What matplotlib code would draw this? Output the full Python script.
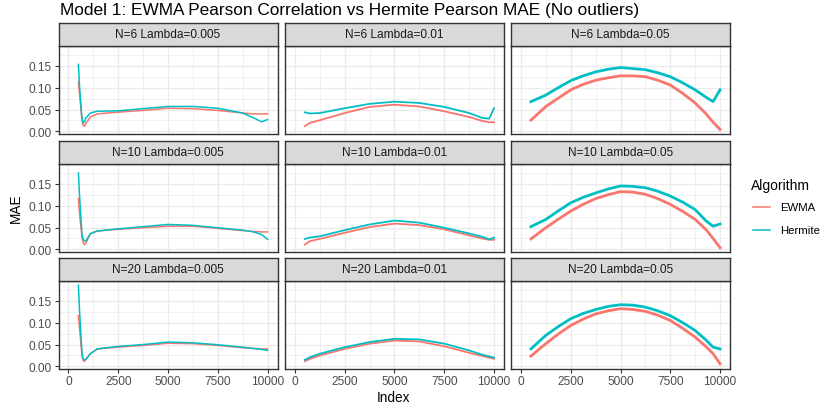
import numpy as np
import matplotlib
matplotlib.use("Agg")
import matplotlib.pyplot as plt
from matplotlib.lines import Line2D

plt.rcParams['font.family'] = ['Liberation Sans', 'DejaVu Sans']

# facet labels
n_values = [6, 10, 20]
lambdas = ["0.005", "0.01", "0.05"]
algorithms = ["EWMA", "Hermite"]
colors = {"EWMA": "#F8766D", "Hermite": "#00BFC4"}

# x grids (one per lambda column)
x_l005 = [500, 560, 680, 740, 800, 870, 1100, 1450, 2500, 3750, 5000, 6250, 7500, 8750, 9300, 9700, 10000]
x_l01 = [500, 750, 1250, 2500, 3750, 5000, 6250, 7500, 8750, 9400, 9750, 10000]
x_l05 = [500, 1250, 1875, 2500, 3125, 3750, 4375, 5000, 5625, 6250, 6875, 7500, 8125, 8750, 9300, 9650, 10000]

# MAE values, per N (row) and lambda (column)
ewma_n6_l005 = [0.113, 0.085, 0.025, 0.014, 0.012, 0.018, 0.033, 0.040, 0.044, 0.048, 0.053, 0.052, 0.048, 0.042, 0.040, 0.040, 0.040]
herm_n6_l005 = [0.153, 0.100, 0.028, 0.0195, 0.022, 0.030, 0.042, 0.046, 0.047, 0.052, 0.057, 0.057, 0.053, 0.042, 0.031, 0.022, 0.027]
ewma_n10_l005 = [0.116, 0.080, 0.028, 0.016, 0.011, 0.014, 0.036, 0.042, 0.046, 0.0495, 0.053, 0.053, 0.048, 0.043, 0.041, 0.040, 0.040]
herm_n10_l005 = [0.175, 0.120, 0.032, 0.023, 0.020, 0.019, 0.036, 0.042, 0.047, 0.052, 0.057, 0.055, 0.0495, 0.044, 0.040, 0.034, 0.023]
ewma_n20_l005 = [0.116, 0.085, 0.025, 0.013, 0.0114, 0.015, 0.029, 0.040, 0.044, 0.048, 0.053, 0.052, 0.048, 0.0426, 0.041, 0.040, 0.040]
herm_n20_l005 = [0.186, 0.124, 0.030, 0.0175, 0.015, 0.016, 0.029, 0.040, 0.0457, 0.050, 0.0556, 0.054, 0.0495, 0.044, 0.041, 0.039, 0.0365]

ewma_n6_l01 = [0.012, 0.0195, 0.0256, 0.042, 0.056, 0.061, 0.057, 0.046, 0.033, 0.024, 0.021, 0.021]
herm_n6_l01 = [0.0436, 0.041, 0.042, 0.053, 0.063, 0.068, 0.065, 0.056, 0.042, 0.031, 0.029, 0.053]
ewma_n10_l01 = [0.011, 0.019, 0.024, 0.038, 0.051, 0.059, 0.0555, 0.046, 0.032, 0.025, 0.022, 0.022]
herm_n10_l01 = [0.024, 0.027, 0.030, 0.044, 0.057, 0.066, 0.061, 0.0495, 0.0365, 0.029, 0.023, 0.027]
ewma_n20_l01 = [0.012, 0.017, 0.025, 0.040, 0.052, 0.059, 0.057, 0.046, 0.031, 0.024, 0.020, 0.0175]
herm_n20_l01 = [0.015, 0.021, 0.029, 0.044, 0.0556, 0.063, 0.0616, 0.052, 0.0365, 0.027, 0.023, 0.020]

ewma_n6_l05 = [0.0256, 0.057, 0.076, 0.095, 0.1075, 0.117, 0.1225, 0.127, 0.127, 0.125, 0.117, 0.106, 0.087, 0.065, 0.040, 0.021, 0.0045]
herm_n6_l05 = [0.068, 0.083, 0.100, 0.116, 0.127, 0.136, 0.142, 0.146, 0.1435, 0.141, 0.134, 0.125, 0.111, 0.095, 0.078, 0.068, 0.095]
ewma_n10_l05 = [0.024, 0.0495, 0.069, 0.0875, 0.103, 0.116, 0.125, 0.132, 0.131, 0.126, 0.116, 0.103, 0.087, 0.0685, 0.045, 0.025, 0.004]
herm_n10_l05 = [0.052, 0.0685, 0.088, 0.1065, 0.119, 0.129, 0.138, 0.145, 0.144, 0.141, 0.133, 0.122, 0.108, 0.091, 0.065, 0.053, 0.058]
ewma_n20_l05 = [0.0236, 0.052, 0.074, 0.0936, 0.108, 0.120, 0.127, 0.132, 0.130, 0.126, 0.117, 0.105, 0.087, 0.067, 0.045, 0.029, 0.006]
herm_n20_l05 = [0.040, 0.071, 0.091, 0.109, 0.121, 0.130, 0.137, 0.141, 0.140, 0.1355, 0.127, 0.116, 0.100, 0.082, 0.060, 0.044, 0.040]

x_grids = [x_l005, x_l01, x_l05]
series = {
    (0, 0): (ewma_n6_l005, herm_n6_l005), (0, 1): (ewma_n6_l01, herm_n6_l01), (0, 2): (ewma_n6_l05, herm_n6_l05),
    (1, 0): (ewma_n10_l005, herm_n10_l005), (1, 1): (ewma_n10_l01, herm_n10_l01), (1, 2): (ewma_n10_l05, herm_n10_l05),
    (2, 0): (ewma_n20_l005, herm_n20_l005), (2, 1): (ewma_n20_l01, herm_n20_l01), (2, 2): (ewma_n20_l05, herm_n20_l05),
}

W, H = 824, 410
fig = plt.figure(figsize=(W / 100, H / 100), dpi=100)

def px_axes(left, top, w, h):
    return fig.add_axes([left / W, 1 - (top + h) / H, w / W, h / H])

col_left = [58.5, 285, 511]
panel_w = 219
plot_top = [47, 165, 282]
plot_h = 87.5
strip_h = 23
# thicker lines where the series are noisy
col_lw = [1.1, 1.3, 2.0]

for r in range(3):
    for c in range(3):
        ax = px_axes(col_left[c], plot_top[r], panel_w, plot_h)
        ewma, herm = series[(r, c)]
        for name, vals in zip(algorithms, (ewma, herm)):
            ax.plot(x_grids[c], vals, color=colors[name], lw=col_lw[c], solid_joinstyle="round")
        ax.set_xlim(-500, 10500)
        ax.set_ylim(-0.0048, 0.1952)
        ax.set_xticks([0, 2500, 5000, 7500, 10000])
        ax.set_xticks([1250, 3750, 6250, 8750], minor=True)
        ax.set_yticks([0, 0.05, 0.10, 0.15])
        ax.set_yticks([0.025, 0.075, 0.125, 0.175], minor=True)
        ax.grid(which="major", color="#EBEBEB", lw=1.0)
        ax.grid(which="minor", color="#EBEBEB", lw=0.5)
        ax.set_axisbelow(True)
        for s in ax.spines.values():
            s.set_color("#333333")
            s.set_linewidth(1.0)
        ax.tick_params(which="minor", length=0)
        ax.tick_params(which="major", length=3, width=0.8, color="#333333",
                       labelsize=8.6, labelcolor="#4D4D4D", pad=2)
        if c == 0:
            ax.set_yticklabels(["0.00", "0.05", "0.10", "0.15"])
        else:
            ax.tick_params(axis="y", length=0, labelleft=False)
        if r == 2:
            ax.set_xticklabels(["0", "2500", "5000", "7500", "10000"])
        else:
            ax.tick_params(axis="x", length=0, labelbottom=False)

        st = px_axes(col_left[c], plot_top[r] - strip_h, panel_w, strip_h)
        st.set_facecolor("#D9D9D9")
        st.set_xticks([])
        st.set_yticks([])
        for s in st.spines.values():
            s.set_color("#333333")
            s.set_linewidth(1.0)
        st.text(0.5, 0.5, f"N={n_values[r]} Lambda={lambdas[c]}", ha="center", va="center",
                fontsize=8.6, color="#1A1A1A", transform=st.transAxes)

fig.text(60 / W, 1 - 10 / H, "Model 1: EWMA Pearson Correlation vs Hermite Pearson MAE (No outliers)",
         ha="left", va="center", fontsize=12.4, color="black")
fig.text(394 / W, 1 - 398 / H, "Index", ha="center", va="center", fontsize=9.8)
fig.text(16 / W, 1 - 208 / H, "MAE", ha="center", va="center", rotation=90, fontsize=9.8)

# legend
fig.text(751 / W, 1 - 186 / H, "Algorithm", ha="left", va="center", fontsize=10)
for i, name in enumerate(algorithms):
    yk = 1 - (208 + i * 22.5) / H
    fig.add_artist(Line2D([753 / W, 770 / W], [yk, yk], color=colors[name], lw=1.1,
                          transform=fig.transFigure))
    fig.text(780 / W, yk, name, ha="left", va="center", fontsize=8.2)

fig.savefig("out.png", dpi=100)
